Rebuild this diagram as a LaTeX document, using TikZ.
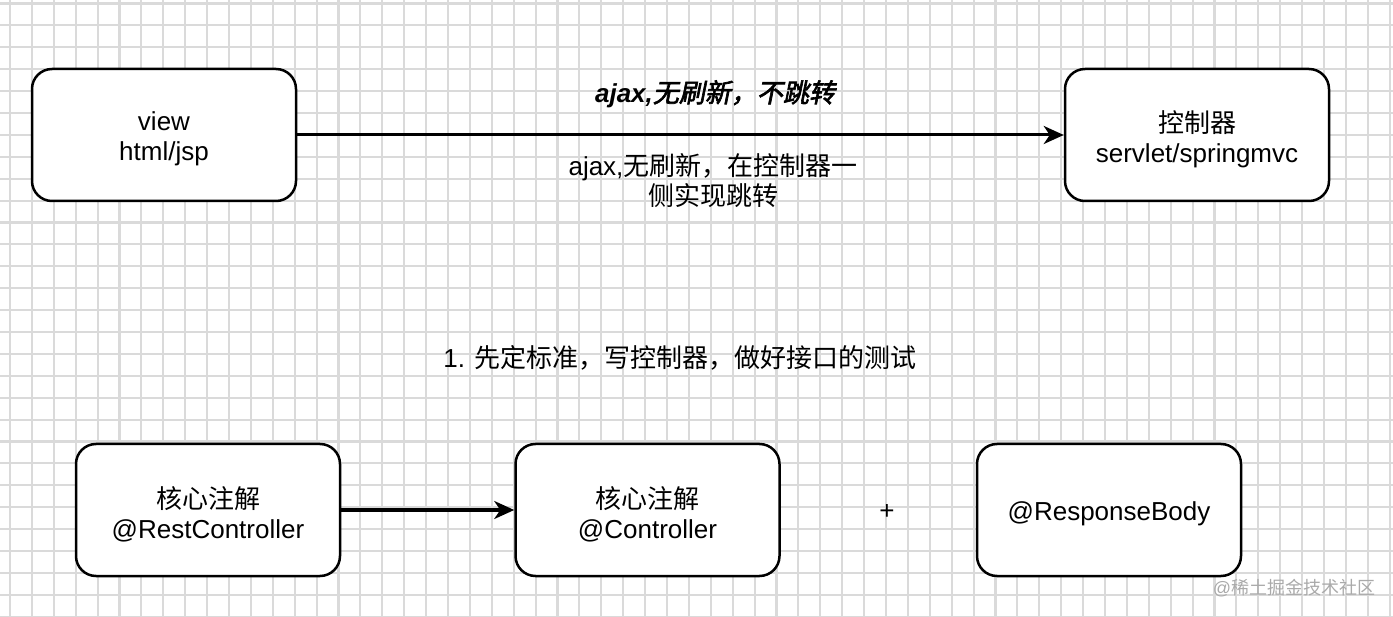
\documentclass[tikz,border=0pt]{standalone}
\usepackage{fontspec}
\setmainfont{Liberation Sans}
\newfontfamily\cjk{Noto Sans CJK SC}
\newfontfamily\cjkbi{Noto Sans CJK SC}[FakeSlant=0.2,FakeBold=2.5]
\newfontfamily\latbi{Liberation Sans Bold Italic}
\usetikzlibrary{arrows.meta}
\definecolor{gridc}{RGB}{218,218,218}
\definecolor{wm}{RGB}{170,170,170}
\tikzset{
  box/.style={draw=black, line width=2.5pt, fill=white, rounded corners=20pt,
    minimum width=264pt, minimum height=132pt, inner sep=0pt},
  conn/.style={line width=3pt, -{Stealth[length=20pt,width=18pt,inset=6pt]}},
  lbl/.style={align=center, inner sep=0pt, font=\fontsize{26}{30}\selectfont},
  boxtext/.style={lbl, yshift=-4pt},
  gridline/.style={draw=gridc, line width=2.1pt}
}
\begin{document}
\begin{tikzpicture}[x=1pt,y=-1pt]
\useasboundingbox (0,0) rectangle (1393,617);
\fill[white] (0,0) rectangle (1393,617);
\foreach \i in {0,...,63} \draw[gridline] ({10+21.9*\i},0) -- ({10+21.9*\i},617);
\foreach \j in {0,...,28} \draw[gridline] (0,{3.5+21.9*\j}) -- (1393,{3.5+21.9*\j});

\node[box, label={[boxtext]center:view\\html/jsp}] (view) at (164,135) {};
\node[box, label={[boxtext]center:{\cjk 控制器}\\servlet/springmvc}] (ctrl) at (1197,135) {};
\node[box, label={[boxtext]center:{\cjk 核心注解}\\@RestController}] (rest) at (208,510) {};
\node[box, label={[boxtext]center:{\cjk 核心注解}\\@Controller}] (cont) at (647.5,510) {};
\node[box, label={[boxtext]center:@ResponseBody}] (resp) at (1109,510) {};

\draw[conn] (view) -- (ctrl);
\draw[conn] (rest) -- (cont);

\node[lbl] (top) at (715,94) {{\latbi ajax,}{\cjkbi 无刷新，不跳转}};
\node[lbl] (bot) at (713,181) {ajax,{\cjk 无刷新，在控制器一}\\{\cjk 侧实现跳转}};
\node[lbl] (step1) at (680,358) {1. {\cjk 先定标准，写控制器，做好接口的测试}};
\node[lbl] (plus) at (887,512) {+};
\node[inner sep=0pt, text=wm, font=\fontsize{18}{20}\selectfont] (mark) at (1294,588) {@{\cjk 稀土掘金技术社区}};
\end{tikzpicture}
\end{document}
